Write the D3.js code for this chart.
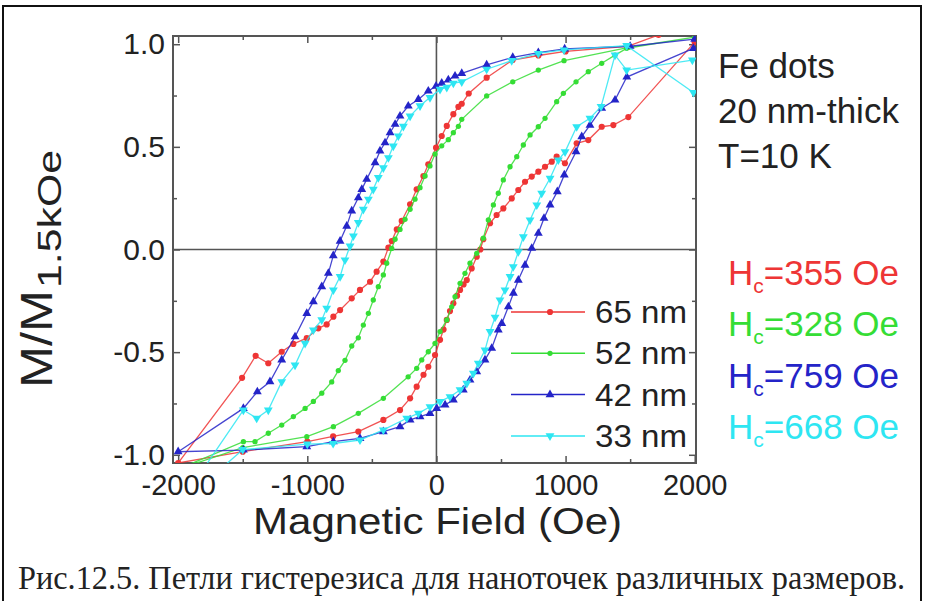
<!DOCTYPE html>
<html>
<head>
<meta charset="utf-8">
<script src="https://cdn.jsdelivr.net/npm/d3@7"></script>
<style>
  body { margin: 0; background: #fff; }
  text { font-family: "Liberation Sans", Arial, sans-serif; fill: #222; }
</style>
</head>
<body>
<svg id="chart" width="925" height="601"></svg>
<script>
// hysteresis loops, each one: descending branch (+2000 -> -2000) then ascending branch
var h65 = [2000, 1720, 1480, 1000, 790, 590, 389, 250, 196, 170, 131, 80, 41, -3, -63, -101, -153, -204, -269, -307, -346, -372, -411, -463, -514, -592, -656, -746, -798, -850, -915, -1004, -1108, -1198, -1302, -1400, -1505, -2000,
           -1500, -1000, -800, -605, -411, -282, -204, -153, -100, -63, -11, 28, 55, 80, 105, 131, 160, 183, 210, 235, 273, 312, 340, 363, 415, 466, 518, 583, 634, 686, 738, 789, 841, 893, 931, 995, 1086, 1176, 1280, 1370, 1486, 2000];
var m65 = [1.09, 1.045, 0.99, 0.965, 0.945, 0.923, 0.837, 0.76, 0.71, 0.695, 0.659, 0.602, 0.553, 0.496, 0.415, 0.358, 0.293, 0.22, 0.139, 0.098, 0.041, 0.009, -0.059, -0.108, -0.157, -0.197, -0.238, -0.295, -0.327, -0.365, -0.384, -0.432, -0.46, -0.498, -0.554, -0.518, -0.625, -1.04,
           -0.985, -0.936, -0.91, -0.887, -0.83, -0.782, -0.725, -0.668, -0.61, -0.571, -0.514, -0.44, -0.39, -0.343, -0.3, -0.262, -0.225, -0.197, -0.17, -0.149, -0.092, -0.035, 0.0, 0.05, 0.128, 0.168, 0.2, 0.249, 0.29, 0.33, 0.355, 0.379, 0.403, 0.428, 0.452, 0.42, 0.517, 0.533, 0.598, 0.606, 0.645, 1.01];

var h52 = [2000, 1490, 988, 789, 591, 389, 196, 170, 131, 92, 41, -11, -50, -88, -127, -166, -204, -243, -282, -320, -346, -385, -411, -450, -489, -527, -566, -605, -656, -708, -760, -811, -888, -953, -1017, -1108, -1198, -1302, -1405, -1495, -2000,
           -1500, -1004, -798, -605, -411, -219, -153, -114, -63, -11, 28, 80, 118, 144, 183, 221, 260, 312, 363, 402, 441, 479, 518, 570, 622, 673, 725, 789, 841, 931, 983, 1081, 1176, 1280, 1383, 1473, 2000];
var m52 = [1.034, 0.985, 0.92, 0.874, 0.817, 0.748, 0.634, 0.6, 0.569, 0.535, 0.505, 0.465, 0.407, 0.358, 0.301, 0.245, 0.196, 0.147, 0.098, 0.05, 0.005, -0.067, -0.124, -0.181, -0.246, -0.311, -0.368, -0.43, -0.47, -0.54, -0.59, -0.645, -0.7, -0.74, -0.774, -0.814, -0.855, -0.895, -0.936, -0.936, -1.07,
           -0.965, -0.912, -0.863, -0.798, -0.725, -0.62, -0.579, -0.538, -0.498, -0.457, -0.4, -0.343, -0.279, -0.23, -0.165, -0.116, -0.067, -0.019, 0.055, 0.144, 0.217, 0.274, 0.339, 0.403, 0.452, 0.509, 0.558, 0.598, 0.639, 0.72, 0.761, 0.817, 0.866, 0.907, 0.947, 0.98, 1.034];

var h42 = [2000, 1500, 993, 789, 591, 389, 196, 144, 92, 41, -3, -63, -140, -218, -282, -320, -359, -398, -437, -475, -540, -578, -605, -656, -695, -746, -799, -837, -888, -953, -1004, -1095, -1198, -1289, -1387, -1495, -2000,
           -1495, -1004, -798, -592, -411, -282, -204, -127, -50, 2, 67, 131, 208, 260, 312, 376, 428, 479, 506, 557, 596, 634, 686, 738, 789, 833, 880, 936, 990, 1081, 1125, 1189, 1280, 1383, 1474, 1990];
var m42 = [1.025, 0.99, 0.977, 0.959, 0.936, 0.899, 0.858, 0.845, 0.826, 0.81, 0.796, 0.772, 0.731, 0.699, 0.65, 0.61, 0.569, 0.52, 0.48, 0.423, 0.342, 0.293, 0.252, 0.188, 0.114, 0.041, -0.03, -0.116, -0.181, -0.254, -0.311, -0.425, -0.538, -0.644, -0.693, -0.774, -0.985,
           -0.977, -0.96, -0.936, -0.92, -0.887, -0.863, -0.83, -0.814, -0.798, -0.774, -0.757, -0.733, -0.684, -0.636, -0.595, -0.538, -0.481, -0.392, -0.36, -0.279, -0.213, -0.149, -0.076, 0.006, 0.079, 0.152, 0.217, 0.282, 0.363, 0.476, 0.55, 0.606, 0.688, 0.728, 0.84, 0.98];

var h33 = [1990, 1473, 988, 789, 583, 389, 196, 131, 80, 28, -50, -127, -204, -256, -295, -334, -372, -411, -450, -489, -527, -566, -605, -643, -669, -708, -746, -798, -850, -888, -953, -1017, -1095, -1198, -1302, -1392, -1495, -2000,
           -1500, -1000, -800, -592, -411, -230, -140, -50, 28, 105, 183, 235, 286, 324, 376, 415, 454, 492, 531, 570, 595, 634, 673, 725, 777, 815, 880, 944, 996, 1086, 1189, 1275, 1383, 1473, 1982];
var m33 = [0.765, 0.993, 0.972, 0.955, 0.92, 0.878, 0.817, 0.81, 0.79, 0.78, 0.74, 0.7, 0.65, 0.6, 0.553, 0.504, 0.447, 0.398, 0.35, 0.293, 0.245, 0.196, 0.131, 0.066, 0.017, -0.051, -0.132, -0.197, -0.286, -0.343, -0.392, -0.457, -0.563, -0.644, -0.782, -0.822, -0.782, -1.25,
           -0.975, -0.948, -0.945, -0.928, -0.879, -0.822, -0.798, -0.766, -0.741, -0.717, -0.684, -0.652, -0.603, -0.554, -0.49, -0.4, -0.33, -0.246, -0.197, -0.132, -0.084, -0.011, 0.062, 0.144, 0.217, 0.274, 0.347, 0.436, 0.476, 0.598, 0.639, 0.696, 0.947, 0.874, 0.923];

var sizes = ["65 nm", "52 nm", "42 nm", "33 nm"];
var colors = ["#ee3535", "#35dd35", "#2424c8", "#2ee6f2"];
var coercive = ["355", "328", "759", "668"];
var xTicks = [-2000, -1000, 0, 1000, 2000];
var yTicks = [-1.0, -0.5, 0.0, 0.5, 1.0];

var svg = d3.select("#chart");

// outer frame of the figure
svg.append("rect").attr("x", 3).attr("y", 6).attr("width", 918).attr("height", 610)
  .attr("fill", "none").attr("stroke", "#111").attr("stroke-width", 2);

var x = d3.scaleLinear().domain([-2040, 2010]).range([173, 696]);
var y = d3.scaleLinear().domain([-1.04, 1.04]).range([463, 36]);

svg.append("clipPath").attr("id", "plotClip")
  .append("rect").attr("x", 173).attr("y", 36).attr("width", 523).attr("height", 427);

// minor + major ticks on all four sides, pointing inward
var minorX = d3.range(-1500, 2000, 1000), minorY = [-0.75, -0.25, 0.25, 0.75];
function ticks(axis, vals, size, tr) {
  svg.append("g").attr("transform", tr)
    .call(axis.tickValues(vals).tickSizeInner(size).tickSizeOuter(0).tickFormat(""))
    .call(function (g) { g.select(".domain").remove(); g.selectAll("line").attr("stroke", "#555").attr("stroke-width", 1.5); });
}
ticks(d3.axisBottom(x), minorX, -4, "translate(0,463)");
ticks(d3.axisTop(x), minorX, -4, "translate(0,36)");
ticks(d3.axisTop(x), xTicks, -7, "translate(0,36)");
ticks(d3.axisLeft(y), minorY, -4, "translate(173,0)");
ticks(d3.axisRight(y), minorY, -4, "translate(696,0)");
ticks(d3.axisRight(y), yTicks, -7, "translate(696,0)");

// plain hyphen for negatives, like the original
var fx = function (d) { return d3.format("d")(d).replace("\u2212", "-"); };
var fy = function (d) { return d3.format(".1f")(d).replace("\u2212", "-"); };

svg.append("g").attr("transform", "translate(0,463)")
  .call(d3.axisBottom(x).tickValues(xTicks).tickSizeInner(-7).tickSizeOuter(0).tickPadding(11).tickFormat(fx))
  .call(function (g) {
    g.select(".domain").remove();
    g.selectAll("line").attr("stroke", "#555").attr("stroke-width", 1.5);
    g.selectAll("text").style("font-size", "29px").attr("fill", "#222").style("font-family", "Liberation Sans, Arial");
  });
svg.append("g").attr("transform", "translate(173,0)")
  .call(d3.axisLeft(y).tickValues(yTicks).tickSizeInner(-7).tickSizeOuter(0).tickPadding(8).tickFormat(fy))
  .call(function (g) {
    g.select(".domain").remove();
    g.selectAll("line").attr("stroke", "#555").attr("stroke-width", 1.5);
    g.selectAll("text").style("font-size", "30px").attr("fill", "#222").style("font-family", "Liberation Sans, Arial");
  });

// zero lines
svg.append("line").attr("x1", x(0)).attr("x2", x(0)).attr("y1", 36).attr("y2", 463)
  .attr("stroke", "#555").attr("stroke-width", 1.6);
svg.append("line").attr("x1", 173).attr("x2", 696).attr("y1", y(0)).attr("y2", y(0))
  .attr("stroke", "#555").attr("stroke-width", 1.6);

// frame
svg.append("rect").attr("x", 173).attr("y", 36).attr("width", 523).attr("height", 427)
  .attr("fill", "none").attr("stroke", "#555").attr("stroke-width", 2);

var series = [[h65, m65], [h52, m52], [h42, m42], [h33, m33]];
var markers = [
  d3.symbol().type(d3.symbolCircle).size(30),
  d3.symbol().type(d3.symbolCircle).size(22),
  d3.symbol().type(d3.symbolTriangle).size(34),
  d3.symbol().type(d3.symbolTriangle).size(34)
];
var line = d3.line().x(function (d) { return x(d[0]); }).y(function (d) { return y(d[1]); });
var plot = svg.append("g").attr("clip-path", "url(#plotClip)");

series.forEach(function (s, i) {
  var pts = s[0].map(function (h, j) { return [h, s[1][j]]; });
  plot.append("path").datum(pts).attr("d", line)
    .attr("fill", "none").attr("stroke", colors[i]).attr("stroke-width", 1.3).attr("opacity", 0.85);
  plot.selectAll(".mk" + i).data(pts).enter().append("path")
    .attr("d", markers[i])
    .attr("transform", function (d) { return "translate(" + x(d[0]) + "," + y(d[1]) + ")" + (i == 3 ? " rotate(180)" : ""); })
    .attr("fill", colors[i]);
});

// legend
var leg = svg.append("g");
sizes.forEach(function (name, i) {
  var ly = 312 + i * 41.3;
  leg.append("line").attr("x1", 511).attr("x2", 585).attr("y1", ly).attr("y2", ly)
    .attr("stroke", colors[i]).attr("stroke-width", 1.5);
  leg.append("path").attr("d", markers[i])
    .attr("transform", "translate(550," + ly + ")" + (i == 3 ? " rotate(180)" : ""))
    .attr("fill", colors[i]);
  leg.append("text").attr("x", 595).attr("y", ly + 11).style("font-size", "32px")
    .attr("textLength", 92).attr("lengthAdjust", "spacingAndGlyphs").text(name);
});

// axis titles
svg.append("text").attr("x", 253).attr("y", 534)
  .attr("textLength", 369).attr("lengthAdjust", "spacingAndGlyphs")
  .style("font-size", "37px").text("Magnetic Field (Oe)");

svg.append("text").attr("transform", "translate(52,388) rotate(-90)")
  .attr("textLength", 98).attr("lengthAdjust", "spacingAndGlyphs")
  .style("font-size", "45px").text("M/M");
svg.append("text").attr("transform", "translate(61,288) rotate(-90)")
  .attr("textLength", 138).attr("lengthAdjust", "spacingAndGlyphs")
  .style("font-size", "33px").text("1.5kOe");

// sample notes
["Fe dots", "20 nm-thick", "T=10 K"].forEach(function (t, i) {
  svg.append("text").attr("x", 718).attr("y", 78 + i * 45).style("font-size", "35px").text(t);
});
coercive.forEach(function (v, i) {
  var t = svg.append("text").attr("x", 728).attr("y", 285 + i * 51.3).style("font-size", "35px");
  t.append("tspan").attr("fill", colors[i]).text("H");
  t.append("tspan").attr("fill", colors[i]).attr("dy", 8).style("font-size", "21px").text("c");
  t.append("tspan").attr("fill", colors[i]).attr("dy", -8).text("=" + v + " Oe");
});

// caption
svg.append("text").attr("x", 18).attr("y", 589)
  .attr("textLength", 887).attr("lengthAdjust", "spacingAndGlyphs")
  .style("font-family", "Liberation Serif, Times New Roman, serif").style("font-size", "33px").attr("fill", "#000")
  .text("Рис.12.5. Петли гистерезиса для наноточек различных размеров.");
</script>
</body>
</html>
